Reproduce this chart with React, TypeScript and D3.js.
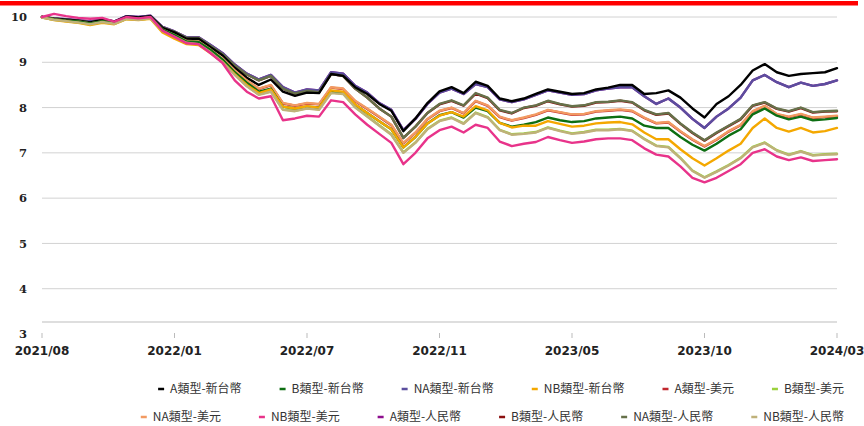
import { line, scaleLinear } from "d3";
import { useMemo } from "react";

const xLabels = ["2021/08", "2022/01", "2022/07", "2022/11", "2023/05", "2023/10", "2024/03"];
const yTicks = [3, 4, 5, 6, 7, 8, 9, 10];

const seriesNames = [
  "A類型-新台幣", "B類型-新台幣", "NA類型-新台幣", "NB類型-新台幣",
  "A類型-美元", "B類型-美元", "NA類型-美元", "NB類型-美元",
  "A類型-人民幣", "B類型-人民幣", "NA類型-人民幣", "NB類型-人民幣",
];
const seriesColors = [
  "#000000", "#0d6e12", "#5b4e9e", "#f4a800",
  "#c1272d", "#9bd13d", "#f29a62", "#e8338a",
  "#8e0e8e", "#8b1010", "#66714a", "#bfb17a",
];

// values read every ~half month, 2021/08 .. 2024/03
const aTwd = [
  10.0, 9.96, 9.94, 9.92, 9.88, 9.94, 9.9, 10.01, 9.99, 10.02,
  9.76, 9.66, 9.52, 9.52, 9.33, 9.15, 8.88, 8.66, 8.5, 8.62,
  8.35, 8.26, 8.33, 8.32, 8.74, 8.7, 8.45, 8.3, 8.08, 7.93,
  7.48, 7.76, 8.1, 8.36, 8.45, 8.32, 8.57, 8.48, 8.2, 8.14,
  8.2, 8.3, 8.4, 8.35, 8.3, 8.32, 8.4, 8.44, 8.5, 8.5,
  8.3, 8.32, 8.38, 8.22, 7.98, 7.78, 8.08, 8.25, 8.5, 8.82,
  8.96, 8.78, 8.7, 8.74, 8.76, 8.78, 8.87,
];
const bTwd = [
  10.0, 9.95, 9.92, 9.9, 9.86, 9.91, 9.87, 9.98, 9.96, 9.99,
  9.72, 9.6, 9.46, 9.45, 9.27, 9.06, 8.78, 8.55, 8.35, 8.42,
  8.02, 7.98, 8.02, 8.0, 8.36, 8.33, 8.06, 7.88, 7.7, 7.52,
  7.12, 7.35, 7.65, 7.83, 7.9, 7.78, 8.0, 7.92, 7.66, 7.58,
  7.62, 7.68, 7.78, 7.72, 7.68, 7.7, 7.76, 7.78, 7.8, 7.76,
  7.6, 7.55, 7.55, 7.35, 7.18, 7.05, 7.2, 7.38, 7.52, 7.85,
  7.98, 7.82, 7.74, 7.8, 7.72, 7.74, 7.77,
];
const naTwd = [
  10.0, 9.97, 9.95, 9.93, 9.9, 9.95, 9.9, 10.02, 10.0, 10.03,
  9.78, 9.68, 9.55, 9.55, 9.38, 9.2, 8.95, 8.75, 8.62, 8.72,
  8.45, 8.33, 8.4, 8.38, 8.78, 8.75, 8.48, 8.33, 8.1, 7.95,
  7.5, 7.75, 8.08, 8.33, 8.42, 8.3, 8.52, 8.45, 8.18, 8.12,
  8.18, 8.28, 8.38, 8.33, 8.28, 8.3, 8.38, 8.42, 8.45, 8.45,
  8.25, 8.08, 8.2, 8.0, 7.75, 7.55, 7.8, 7.98, 8.22, 8.6,
  8.72, 8.56, 8.45, 8.55, 8.48, 8.52, 8.6,
];
const nbTwd = [
  9.99, 9.93, 9.9, 9.87, 9.82, 9.87, 9.84, 9.95, 9.93, 9.96,
  9.66, 9.52, 9.4, 9.38, 9.2, 9.0, 8.74, 8.5, 8.32, 8.4,
  8.02, 7.98, 8.03, 8.0, 8.38, 8.35, 8.07, 7.88, 7.7, 7.52,
  7.12, 7.35, 7.65, 7.82, 7.9, 7.8, 8.03, 7.94, 7.66, 7.56,
  7.6, 7.6, 7.7, 7.64, 7.58, 7.6, 7.65, 7.67, 7.68, 7.63,
  7.45, 7.3, 7.3, 7.08, 6.88, 6.72, 6.88, 7.05, 7.2, 7.55,
  7.76, 7.55, 7.47, 7.55, 7.45, 7.48, 7.55,
];
const aUsd = [
  10.0, 9.95, 9.92, 9.9, 9.86, 9.9, 9.87, 9.97, 9.95, 9.98,
  9.71, 9.59, 9.46, 9.45, 9.27, 9.07, 8.81, 8.59, 8.41, 8.49,
  8.09, 8.04, 8.09, 8.07, 8.44, 8.41, 8.14, 7.97, 7.79, 7.61,
  7.21, 7.44, 7.74, 7.92, 7.99, 7.87, 8.14, 8.04, 7.79, 7.71,
  7.77, 7.84, 7.94, 7.89, 7.84, 7.85, 7.91, 7.93, 7.95, 7.92,
  7.77, 7.65, 7.67, 7.47, 7.29, 7.14, 7.29, 7.47, 7.61, 7.91,
  8.03, 7.85, 7.79, 7.85, 7.77, 7.79, 7.81,
];
const bUsd = [
  9.99, 9.94, 9.91, 9.88, 9.84, 9.89, 9.85, 9.96, 9.94, 9.97,
  9.69, 9.56, 9.43, 9.4, 9.22, 9.0, 8.73, 8.48, 8.29, 8.36,
  7.96, 7.93, 7.99, 7.96, 8.33, 8.31, 8.01, 7.81, 7.61, 7.41,
  7.01, 7.23, 7.53, 7.71, 7.78, 7.65, 7.89, 7.79, 7.51, 7.41,
  7.43, 7.46, 7.56, 7.49, 7.43, 7.46, 7.51, 7.51, 7.53, 7.49,
  7.31, 7.16, 7.13, 6.89, 6.61, 6.46, 6.59, 6.73, 6.89, 7.13,
  7.23, 7.06, 6.96, 7.04, 6.95, 6.97, 6.98,
];
const naUsd = [
  10.0, 9.95, 9.92, 9.9, 9.86, 9.9, 9.87, 9.98, 9.96, 9.99,
  9.72, 9.6, 9.47, 9.46, 9.28, 9.08, 8.82, 8.6, 8.42, 8.5,
  8.1, 8.05, 8.1, 8.08, 8.45, 8.42, 8.15, 7.98, 7.8, 7.62,
  7.22, 7.45, 7.75, 7.93, 8.0, 7.88, 8.15, 8.05, 7.8, 7.72,
  7.78, 7.85, 7.95, 7.9, 7.85, 7.86, 7.92, 7.94, 7.96, 7.93,
  7.78, 7.66, 7.68, 7.48, 7.3, 7.15, 7.3, 7.48, 7.62, 7.92,
  8.04, 7.86, 7.8, 7.86, 7.78, 7.8, 7.82,
];
const nbUsd = [
  10.0, 10.07, 10.02, 9.98, 9.96, 9.98, 9.9, 10.0, 9.97, 10.0,
  9.7, 9.56, 9.42, 9.4, 9.2, 8.98, 8.6, 8.35, 8.2, 8.25,
  7.72, 7.76, 7.82, 7.8, 8.16, 8.12, 7.85, 7.62, 7.42, 7.22,
  6.75, 7.0, 7.32, 7.5, 7.58, 7.45, 7.62, 7.55, 7.25, 7.15,
  7.2, 7.24, 7.35, 7.28, 7.22, 7.25, 7.3, 7.32, 7.32, 7.28,
  7.1, 6.96, 6.92, 6.7, 6.45, 6.35, 6.45, 6.6, 6.75, 7.0,
  7.08, 6.92, 6.84, 6.9, 6.82, 6.84, 6.86,
];
// hidden under the NA新台幣 line in the picture
const aCny = [
  10.0, 9.97, 9.95, 9.93, 9.9, 9.95, 9.9, 10.02, 10.0, 10.03,
  9.78, 9.68, 9.55, 9.55, 9.38, 9.2, 8.95, 8.75, 8.62, 8.72,
  8.45, 8.33, 8.4, 8.38, 8.78, 8.75, 8.48, 8.33, 8.1, 7.95,
  7.5, 7.75, 8.08, 8.33, 8.42, 8.3, 8.52, 8.45, 8.18, 8.12,
  8.18, 8.28, 8.38, 8.33, 8.28, 8.3, 8.38, 8.42, 8.45, 8.45,
  8.25, 8.08, 8.2, 8.0, 7.75, 7.55, 7.8, 7.98, 8.22, 8.6,
  8.72, 8.56, 8.45, 8.55, 8.48, 8.52, 8.6,
];
const bCny = [
  10.0, 9.96, 9.94, 9.92, 9.88, 9.93, 9.89, 10.0, 9.98, 10.01,
  9.77, 9.67, 9.54, 9.54, 9.36, 9.18, 8.93, 8.73, 8.6, 8.7,
  8.42, 8.31, 8.37, 8.34, 8.74, 8.7, 8.42, 8.22, 7.98, 7.8,
  7.33, 7.58, 7.88, 8.07, 8.15, 8.04, 8.31, 8.21, 7.94, 7.87,
  7.99, 8.04, 8.14, 8.07, 8.02, 8.04, 8.11, 8.12, 8.15, 8.11,
  7.94, 7.84, 7.87, 7.64, 7.44, 7.27, 7.44, 7.59, 7.74, 8.04,
  8.11, 7.97, 7.91, 7.99, 7.89, 7.91, 7.92,
];
const naCny = [
  10.0, 9.96, 9.94, 9.92, 9.88, 9.93, 9.89, 10.0, 9.98, 10.01,
  9.77, 9.67, 9.54, 9.54, 9.36, 9.18, 8.93, 8.73, 8.6, 8.7,
  8.42, 8.31, 8.37, 8.34, 8.74, 8.7, 8.42, 8.22, 7.98, 7.8,
  7.33, 7.58, 7.88, 8.08, 8.16, 8.05, 8.32, 8.22, 7.95, 7.88,
  8.0, 8.05, 8.15, 8.08, 8.03, 8.05, 8.12, 8.13, 8.16, 8.12,
  7.95, 7.85, 7.88, 7.65, 7.45, 7.28, 7.45, 7.6, 7.75, 8.05,
  8.12, 7.98, 7.92, 8.0, 7.9, 7.92, 7.93,
];
const nbCny = [
  9.99, 9.94, 9.91, 9.88, 9.84, 9.89, 9.85, 9.96, 9.94, 9.97,
  9.69, 9.56, 9.43, 9.4, 9.22, 9.0, 8.72, 8.47, 8.28, 8.35,
  7.95, 7.92, 7.98, 7.95, 8.32, 8.3, 8.0, 7.8, 7.6, 7.4,
  7.0, 7.22, 7.52, 7.7, 7.77, 7.64, 7.88, 7.78, 7.5, 7.4,
  7.42, 7.45, 7.55, 7.48, 7.42, 7.45, 7.5, 7.5, 7.52, 7.48,
  7.3, 7.15, 7.12, 6.88, 6.6, 6.45, 6.58, 6.72, 6.88, 7.12,
  7.22, 7.05, 6.95, 7.03, 6.94, 6.96, 6.97,
];

const seriesValues = [aTwd, bTwd, naTwd, nbTwd, aUsd, bUsd, naUsd, nbUsd, aCny, bCny, naCny, nbCny];
// covered series first, visible ones on top
const drawOrder = [4, 5, 8, 9, 2, 10, 0, 6, 1, 3, 11, 7];

const W = 864;
const H = 426;
const legendFont = "12px 'Noto Sans CJK TC', 'Noto Sans', sans-serif";

function measure(text: string) {
  const ctx = document.createElement("canvas").getContext("2d");
  if (!ctx) return text.length * 11;
  ctx.font = legendFont;
  return ctx.measureText(text).width;
}

export default function App() {
  const n = aTwd.length;
  const x = scaleLinear([0, n - 1], [42, 837]);
  const y = scaleLinear([3, 10], [334, 17]);
  const step = (n - 1) / (xLabels.length - 1);

  const path = line<number>((_, i) => x(i), (d) => y(d));

  const legend = useMemo(() => {
    const rows = [seriesNames.slice(0, 6), seriesNames.slice(6)];
    const out: { name: string; color: string; x: number; y: number }[] = [];
    rows.forEach((row, r) => {
      const widths = row.map((t) => 12 + measure(t));
      const gap = 38;
      const total = widths.reduce((a, b) => a + b, 0) + gap * (row.length - 1);
      let cx = 844 - total;
      row.forEach((name, k) => {
        const idx = r * 6 + k;
        out.push({ name, color: seriesColors[idx], x: cx, y: r === 0 ? 389 : 417 });
        cx += widths[k] + gap;
      });
    });
    return out;
  }, []);

  return (
    <svg width={W} height={H} style={{ position: "absolute", left: 0, top: 0, background: "#fff" }}>
      <rect x={0} y={1} width={858} height={4.5} fill="#ff0000" />
      {yTicks.filter((t) => t > 3).map((t) => (
        <line key={t} x1={42} x2={837} y1={y(t)} y2={y(t)} stroke="#d2d2d2" strokeWidth={1} />
      ))}
      <line x1={42} x2={837} y1={322} y2={322} stroke="#bdbdbd" strokeWidth={1} />
      {yTicks.map((t) => (
        <text key={t} x={27} y={y(t)} dy="0.36em" textAnchor="end"
          fontFamily="'DejaVu Serif', serif" fontWeight="bold" fontSize={11.5} fill="#222">
          {t}
        </text>
      ))}
      {xLabels.map((lab, k) => (
        <g key={lab} transform={`translate(${x(k * step)},0)`}>
          <line y1={333} y2={338} stroke="#bbb" />
          <text y={355} textAnchor="middle" fontFamily="'DejaVu Sans', sans-serif"
            fontWeight="bold" fontSize={12} fill="#222">
            {lab}
          </text>
        </g>
      ))}
      {drawOrder.map((s) => (
        <path key={s} d={path(seriesValues[s]) ?? ""} fill="none" stroke={seriesColors[s]}
          strokeWidth={2.4} strokeLinejoin="round" strokeLinecap="round" />
      ))}
      {legend.map((it) => (
        <g key={it.name} transform={`translate(${it.x},${it.y})`}>
          <line x1={0} x2={6} y1={0} y2={0} stroke={it.color} strokeWidth={2.5} />
          <text x={12} dy="0.35em" style={{ font: legendFont }} fill="#333">{it.name}</text>
        </g>
      ))}
    </svg>
  );
}
